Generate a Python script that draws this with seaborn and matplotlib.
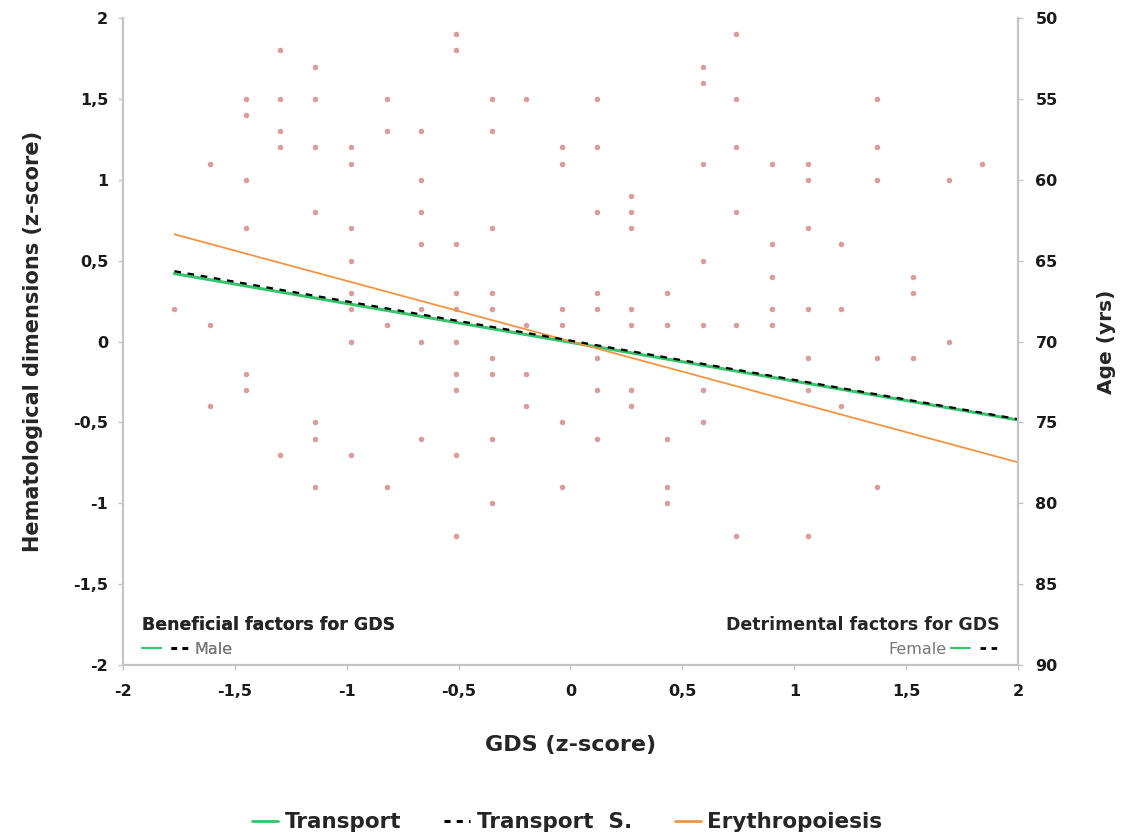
import numpy as np
import pandas as pd
import seaborn as sns
import matplotlib.pyplot as plt
from matplotlib.lines import Line2D
from matplotlib.legend_handler import HandlerTuple

# GDS columns (z-score) and the hematological z-scores read at each column
gds_cols = [-1.77, -1.61, -1.45, -1.30, -1.14, -0.98, -0.82, -0.67, -0.51, -0.35, -0.20, -0.04,
            0.12, 0.27, 0.43, 0.59, 0.74, 0.90, 1.06, 1.21, 1.37, 1.53, 1.69, 1.84]
hema_cols = [
    [0.2],
    [1.1, 0.1, -0.4],
    [1.5, 1.4, 1.0, 0.7, -0.2, -0.3],
    [1.8, 1.5, 1.3, 1.2, -0.7],
    [1.7, 1.5, 1.2, 0.8, -0.5, -0.6, -0.9],
    [1.2, 1.1, 0.7, 0.5, 0.3, 0.2, 0.0, -0.7],
    [1.5, 1.3, 0.1, -0.9],
    [1.3, 1.0, 0.8, 0.6, 0.2, 0.0, -0.6],
    [1.9, 1.8, 0.6, 0.3, 0.2, 0.0, -0.2, -0.3, -0.7, -1.2],
    [1.5, 1.3, 0.7, 0.3, 0.2, -0.1, -0.2, -0.6, -1.0],
    [1.5, 0.1, -0.2, -0.4],
    [1.2, 1.1, 0.2, 0.1, -0.5, -0.9],
    [1.5, 1.2, 0.8, 0.3, 0.2, -0.1, -0.3, -0.6],
    [0.9, 0.8, 0.7, 0.2, 0.1, -0.3, -0.4],
    [0.3, 0.1, -0.6, -0.9, -1.0],
    [1.7, 1.6, 1.1, 0.5, 0.1, -0.3, -0.5],
    [1.9, 1.5, 1.2, 0.8, 0.1, -1.2],
    [1.1, 0.6, 0.4, 0.2, 0.1],
    [1.1, 1.0, 0.7, 0.2, -0.1, -0.3, -1.2],
    [0.6, 0.2, -0.4],
    [1.5, 1.2, 1.0, -0.1, -0.9],
    [0.4, 0.3, -0.1],
    [1.0, 0.0],
    [1.1],
]

# regression line end points
line_x = [-1.77, 2.0]
transport = [0.42, -0.485]
transport_s = [0.435, -0.48]
erythro = [0.663, -0.747]

x_ticks = [-2, -1.5, -1, -0.5, 0, 0.5, 1, 1.5, 2]
y_ticks = [-2, -1.5, -1, -0.5, 0, 0.5, 1, 1.5, 2]
age_ticks = [50, 55, 60, 65, 70, 75, 80, 85, 90]

GREEN = "#35c46a"
ORANGE = "#f39443"
POINT = "#dc9c9c"
SPINE = "#c4c4c4"

sns.set_theme(style="white")
plt.rcParams['font.family'] = ['DejaVu Sans']

df = pd.DataFrame({
    "gds": [x for x, ys in zip(gds_cols, hema_cols) for _ in ys],
    "hema": [y for ys in hema_cols for y in ys],
})

fig = plt.figure(figsize=(11.28, 8.39), dpi=100)
ax = fig.add_axes([0.109, 0.2074, 0.7935, 0.7711])

sns.scatterplot(data=df, x="gds", y="hema", color=POINT, s=16, linewidth=0, ax=ax, zorder=2)
sns.lineplot(x=line_x, y=transport, color=GREEN, lw=2.2, ax=ax, zorder=3)
sns.lineplot(x=line_x, y=transport_s, color="black", lw=1.6, dashes=(3, 3), ax=ax, zorder=4)
sns.lineplot(x=line_x, y=erythro, color=ORANGE, lw=1.3, ax=ax, zorder=3)

def fmt(v):
    return f"{v:g}".replace(".", ",")

ax.set_xlim(-2, 2)
ax.set_ylim(-2, 2)
ax.set_xticks(x_ticks)
ax.set_xticklabels([fmt(v) for v in x_ticks])
ax.set_yticks(y_ticks)
ax.set_yticklabels([fmt(v) for v in y_ticks])

ax2 = ax.twinx()
ax2.set_ylim(90, 50)
ax2.set_yticks(age_ticks)
ax2.set_yticklabels([str(v) for v in age_ticks])

for a in (ax, ax2):
    a.spines["top"].set_visible(False)
    for s in ("left", "right", "bottom"):
        a.spines[s].set_color(SPINE)
        a.spines[s].set_linewidth(1.5)
    a.tick_params(axis="both", which="major", length=3.5, width=1, color=SPINE,
                  labelsize=11.5, labelcolor="#1a1a1a", pad=7)
    for lab in a.get_xticklabels() + a.get_yticklabels():
        lab.set_fontweight("bold")
ax.tick_params(axis="y", left=True, right=False)
ax.tick_params(axis="x", bottom=True, pad=10)
ax2.tick_params(axis="y", right=True, left=False, pad=9)
ax.grid(False)
ax2.grid(False)

ax.set_xlabel("GDS (z-score)", fontsize=16, fontweight="bold", labelpad=26)
ax.set_ylabel("Hematological dimensions (z-score)", fontsize=15, fontweight="bold", labelpad=22)
ax2.set_ylabel("Age (yrs)", fontsize=14.5, fontweight="bold", labelpad=28)

# sex legends inside the plot
h_green = Line2D([], [], color=GREEN, lw=1.5)
h_black = Line2D([], [], color="black", lw=2, dashes=(2, 2))
tm = {tuple: HandlerTuple(ndivide=None, pad=0.6)}
leg_m = ax.legend([(h_green, h_black)], ["Male"], handler_map=tm, loc="lower left",
                  bbox_to_anchor=(0.005, -0.01), frameon=False, handlelength=3.0,
                  handletextpad=0.3, title="Beneficial factors for GDS", alignment="left",
                  prop={"size": 11.5}, title_fontproperties={"size": 12.5, "weight": "bold"},
                  labelcolor="#777777")
ax.add_artist(leg_m)
leg_f = ax2.legend([(h_green, h_black)], ["Female"], handler_map=tm, loc="lower right",
                   bbox_to_anchor=(0.995, -0.01), frameon=False, handlelength=3.0,
                   handletextpad=0.3, markerfirst=False, title="Detrimental factors for GDS",
                   alignment="right", prop={"size": 11.5},
                   title_fontproperties={"size": 12.5, "weight": "bold"}, labelcolor="#777777")

# bottom legend
hl = [Line2D([], [], color=GREEN, lw=2),
      Line2D([], [], color="black", lw=2.2, dashes=(2, 2)),
      Line2D([], [], color=ORANGE, lw=2)]
fig.legend(hl, ["Transport", "Transport  S.", "Erythropoiesis"], loc="center",
           bbox_to_anchor=(0.503, 0.02), ncol=3, frameon=False, handlelength=1.2,
           handletextpad=0.3, columnspacing=2.0,
           prop={"size": 15.5, "weight": "bold"})

fig.savefig("out.png", dpi=100)
